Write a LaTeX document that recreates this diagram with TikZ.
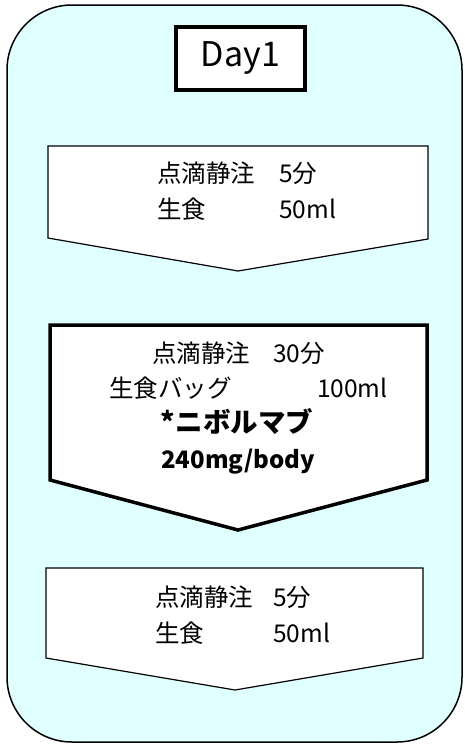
\documentclass[tikz,border=0pt]{standalone}
\usepackage{fontspec}
\setmainfont{Noto Sans CJK JP}
\usetikzlibrary{positioning,calc}
\definecolor{daybg}{RGB}{224,255,255}
\tikzset{font=\fontsize{24.5}{28}\selectfont}

\begin{document}
\begin{tikzpicture}[x=1pt,y=-1pt]
	\useasboundingbox (0,0) rectangle (464,745);
	\tikzstyle{every node}=[inner sep=0pt, anchor=west]
	\tikzstyle{flow}=[draw, fill=white, line width=1.2pt]
	\tikzstyle{flowbold}=[draw, fill=white, line width=3.5pt]

	% background panel
	\draw[fill=daybg, line width=1.5pt, rounded corners=65pt] (7,5) rectangle (462,742);

	% day label
	\node[draw, fill=white, line width=4pt, anchor=center, minimum width=129pt, minimum height=63pt,
		font=\fontsize{34}{38}\selectfont] (day) at (240.5,58.5) {Day1};

	% step arrows
	\draw[flow] (48,146) -- (428,146) -- (428,239) -- (238,271) -- (48,238) -- cycle;
	\draw[flowbold] (50,325) -- (427,325) -- (427,480) -- (238,530) -- (50,480) -- cycle;
	\draw[flow] (46,568) -- (423,568) -- (423,658) -- (235,690) -- (46,658) -- cycle;

	% first step
	\node (pre1) at (157,173) {点滴静注};
	\node (pre1t) at (279,173) {5分};
	\node (pre1s) at (157,209) {生食};
	\node (pre1v) at (279,209) {50ml};

	% drug step
	\node (drip) at (152,353) {点滴静注};
	\node (dript) at (273,353) {30分};
	\node (drips) at (109,388) {生食バッグ};
	\node (dripv) at (317,388) {100ml};
	\node[anchor=center, font=\fontsize{27.5}{30}\selectfont\bfseries] (drug) at (237,422) {*ニボルマブ};
	\node[anchor=center, font=\fontsize{24}{28}\selectfont\bfseries] (dose) at (238,462) {240mg/body};

	% flush step
	\node (post1) at (155,597) {点滴静注};
	\node (post1t) at (273,597) {5分};
	\node (post1s) at (155,633) {生食};
	\node (post1v) at (273,633) {50ml};
\end{tikzpicture}
\end{document}
